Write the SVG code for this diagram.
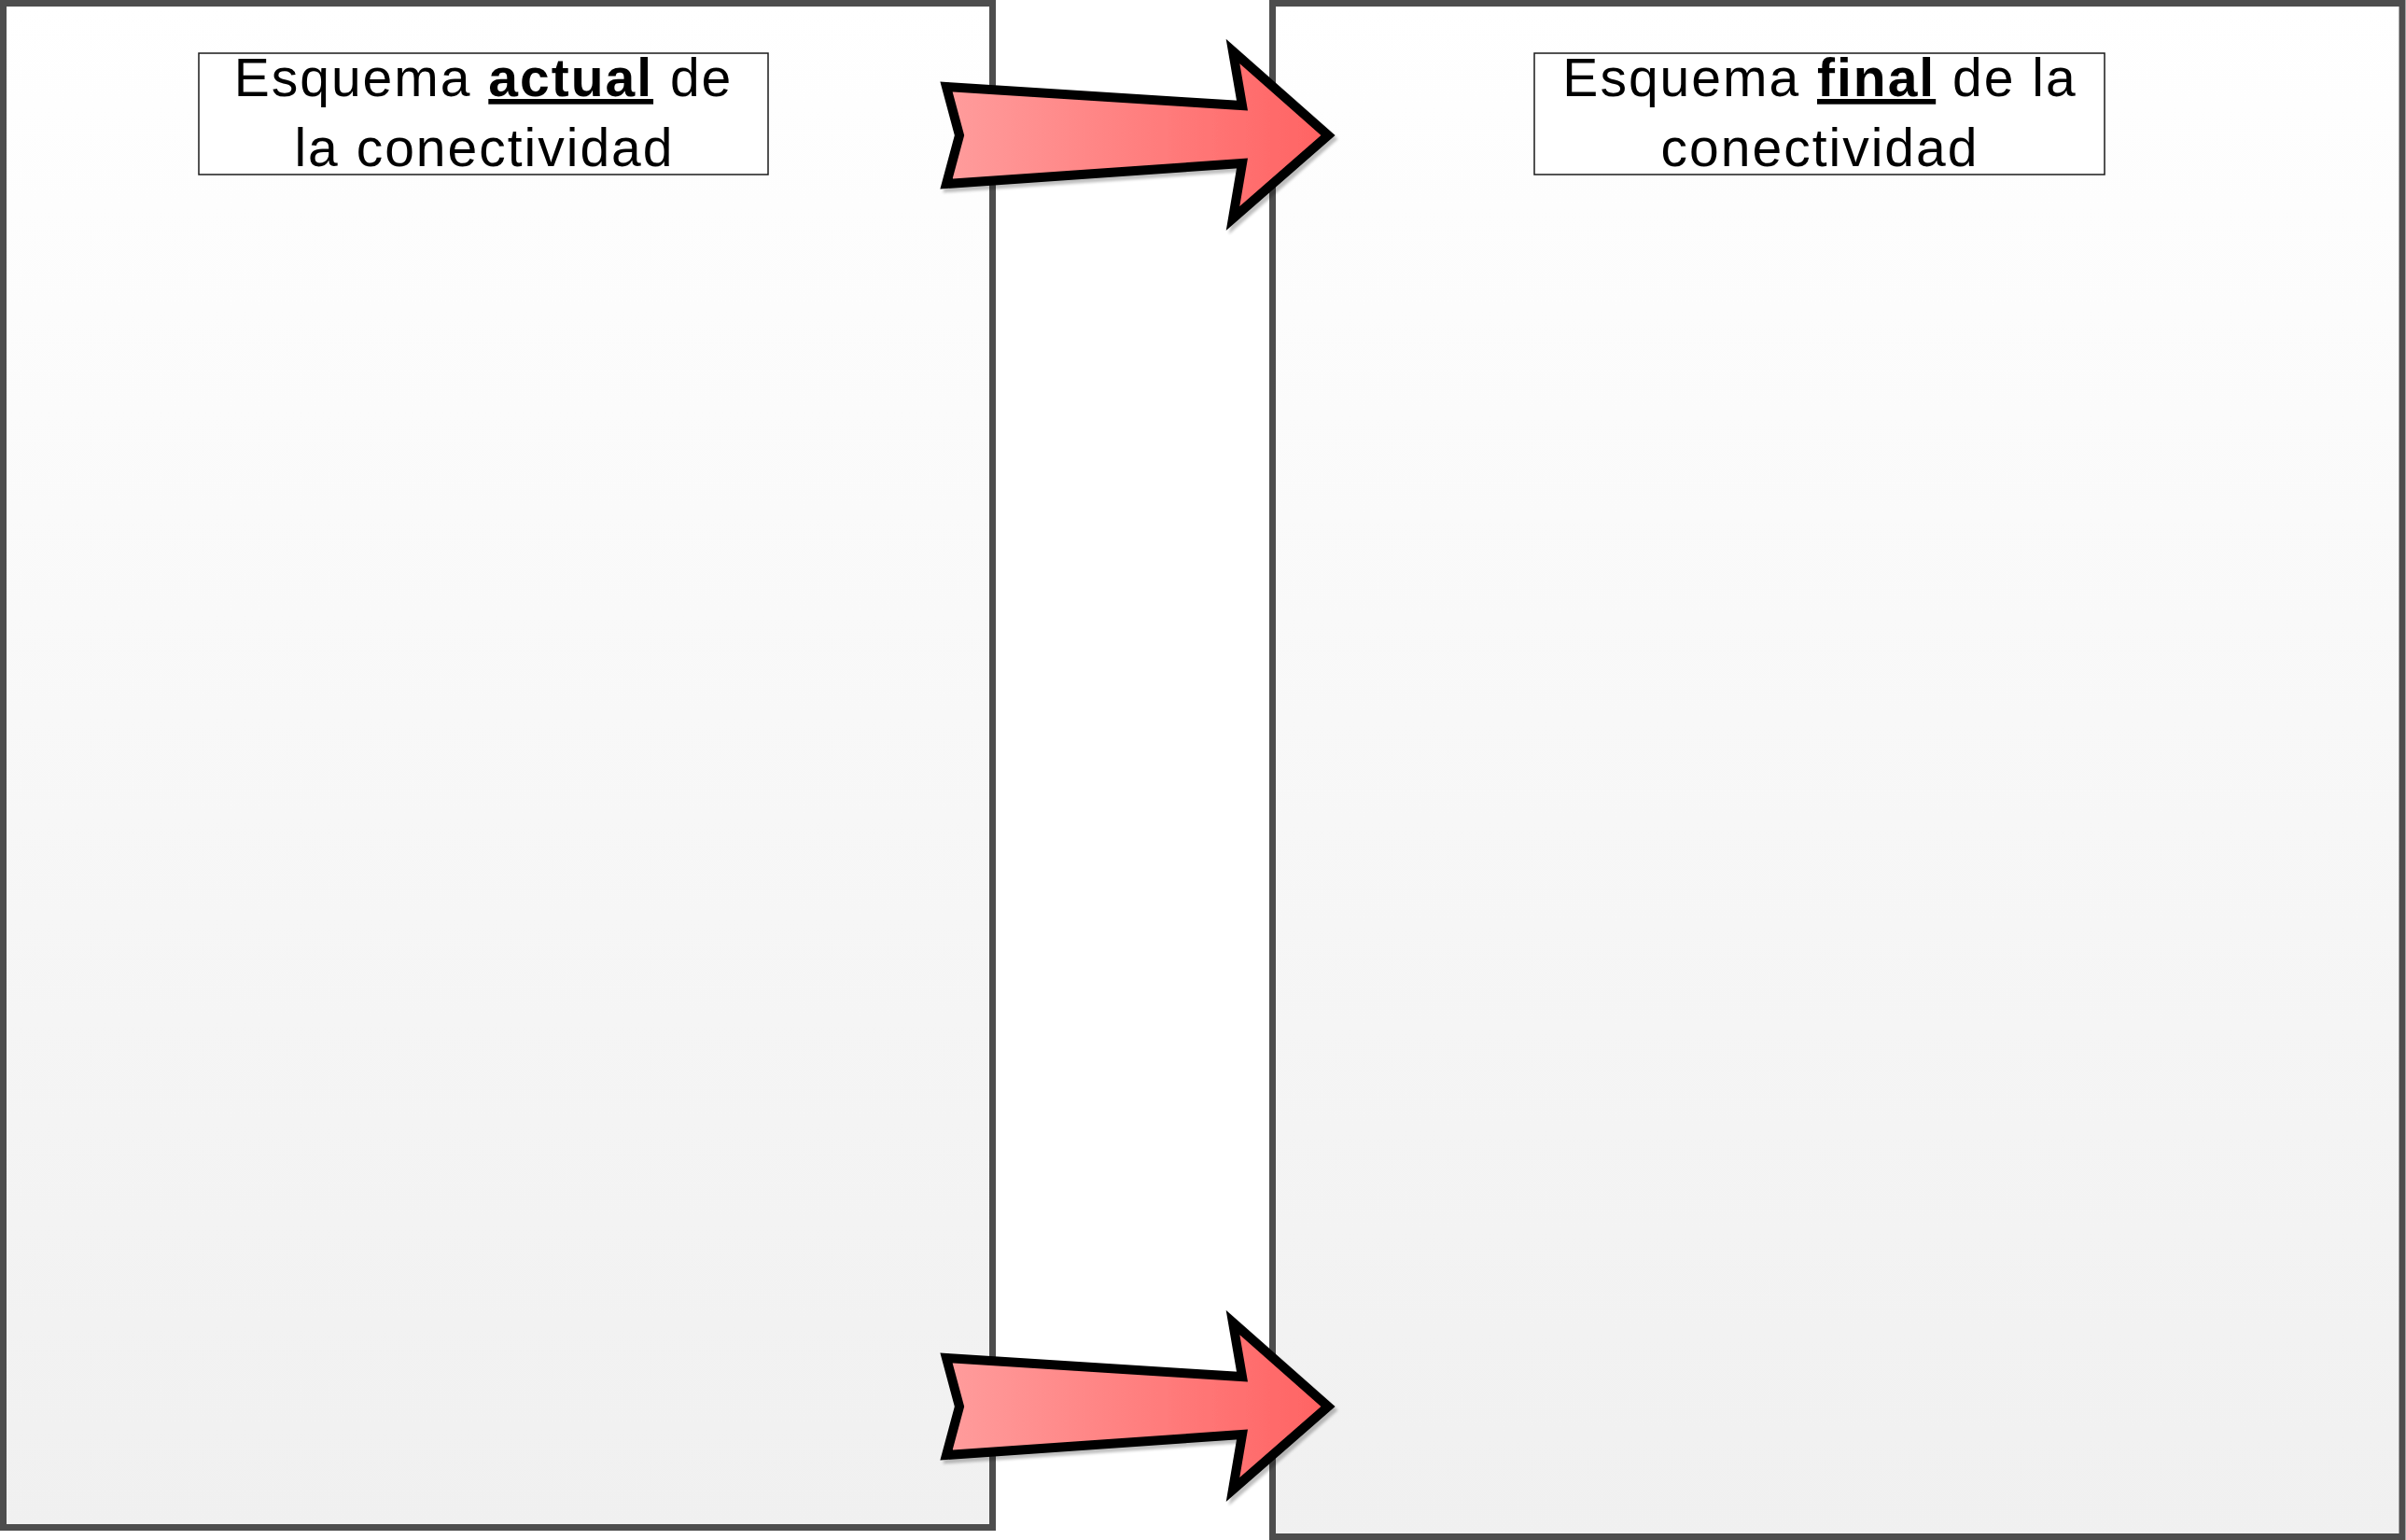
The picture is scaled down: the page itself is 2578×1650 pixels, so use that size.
<svg xmlns="http://www.w3.org/2000/svg" width="2578" height="1650" viewBox="0 0 2578 1650">
  <defs>
    <linearGradient id="panelGrad" x1="0" y1="0" x2="0" y2="1">
      <stop offset="0" stop-color="#ffffff"/>
      <stop offset="1" stop-color="#f0f0f0"/>
    </linearGradient>
    <linearGradient id="arrowGrad" gradientUnits="userSpaceOnUse" x1="1010" y1="0" x2="1425" y2="0">
      <stop offset="0" stop-color="#ff9d9d"/>
      <stop offset="1" stop-color="#ff6262"/>
    </linearGradient>
    <filter id="shadow" x="-10%" y="-10%" width="130%" height="130%">
      <feGaussianBlur in="SourceAlpha" stdDeviation="1.5"/>
      <feOffset dx="3" dy="4" result="off"/>
      <feComponentTransfer><feFuncA type="linear" slope="0.25"/></feComponentTransfer>
      <feMerge><feMergeNode/><feMergeNode in="SourceGraphic"/></feMerge>
    </filter>
  </defs>
  <style>
    .panel { fill: url(#panelGrad); stroke: #4d4d4d; stroke-width: 7; }
    .titlebox { fill: #ffffff; stroke: #1a1a1a; stroke-width: 1.5; }
    .title { font-family: "Liberation Sans", Arial, sans-serif; font-size: 57px; letter-spacing: 2px; fill: #000000; text-anchor: middle; }
    .em { font-weight: bold; text-decoration: underline; }
    .arrow { fill: url(#arrowGrad); stroke: #000000; stroke-width: 10; stroke-linejoin: miter; stroke-miterlimit: 10; filter: url(#shadow); }
  </style>
  <rect width="2578" height="1650" fill="#ffffff"/>

  <g id="panel-actual">
    <rect class="panel" x="3.5" y="3.5" width="1060" height="1633"/>
    <rect class="titlebox" x="213" y="57" width="610" height="130"/>
    <text class="title" x="518" y="103">Esquema <tspan class="em">actual</tspan> de</text>
    <text class="title" x="519" y="178">la conectividad</text>
  </g>

  <g id="panel-final">
    <rect class="panel" x="1363.5" y="3.5" width="1210.5" height="1643"/>
    <rect class="titlebox" x="1644" y="57" width="611" height="130"/>
    <text class="title" x="1950" y="103">Esquema <tspan class="em">final</tspan> de la</text>
    <text class="title" x="1950" y="178">conectividad</text>
  </g>

  <g id="connectors">
    <path id="arrow-top" class="arrow" d="M1014,93 L1331,113 L1321,55 L1423,145 L1321,234 L1331,175 L1014,197 L1028,145 Z"/>
    <path id="arrow-bottom" class="arrow" d="M1014,1455 L1331,1475 L1321,1417 L1423,1507 L1321,1596 L1331,1537 L1014,1559 L1028,1507 Z"/>
  </g>
</svg>
